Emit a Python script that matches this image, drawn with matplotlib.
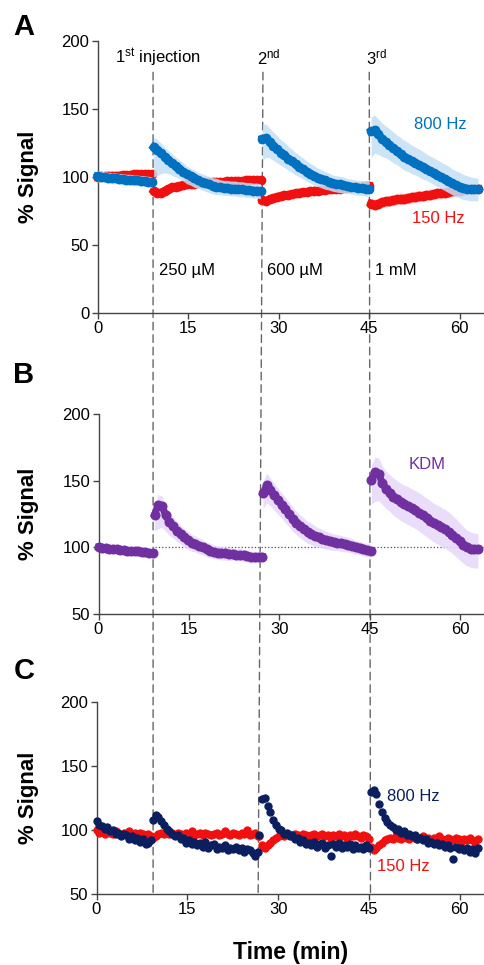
import numpy as np
import matplotlib
matplotlib.use("Agg")
import matplotlib.pyplot as plt
from matplotlib.patches import ConnectionPatch

plt.rcParams['font.family'] = ['Liberation Sans', 'DejaVu Sans']
plt.rcParams['mathtext.fontset'] = 'custom'
plt.rcParams['mathtext.rm'] = 'Liberation Sans'
plt.rcParams['mathtext.it'] = 'Liberation Sans:italic'
plt.rcParams['mathtext.bf'] = 'Liberation Sans:bold'

# ---- data (min, % signal) ----
# injection times (dashed lines, top / bottom end)
inj_top = [9.2, 27.4, 45.0]
inj_bottom = [9.35, 26.7, 45.25]

# panel A : segment bounds
a_start = [0, 9.3, 27.3, 45.3]
a_end = [9.0, 27.0, 45.0, 63.0]

a_800 = [
    [100.5, 100, 100, 99.5, 99, 99, 98.5, 98.5, 98, 98, 97.5, 97.5, 97, 97, 96.5, 96],
    [122, 120, 117.5, 115, 112.5, 110, 108, 106, 104, 102, 100.5, 99, 97.5, 96.5, 95.5,
     94.5, 93.5, 93, 92.5, 92, 92, 91.5, 91.5, 91, 91, 90.5, 90.5, 90, 90, 89.5],
    [128, 128.5, 126, 123, 120.5, 118, 116, 113.5, 111.5, 109.5, 107.5, 106, 104, 102.5, 101,
     99.5, 98.5, 97.5, 96.5, 95.5, 95, 94.5, 94, 93.5, 93, 92.5, 92, 92, 91.5, 91],
    [133.5, 134.5, 131.5, 128, 126, 123.5, 121, 119, 117, 115, 113.5, 112, 110.5, 109, 107.5,
     106, 104.5, 103, 101.5, 100, 98.5, 97, 95.5, 94, 93, 92, 91.5, 91, 91, 91],
]
a_800_hi = [
    [4, 4, 4, 4, 4, 4, 4, 4, 4, 4, 4, 4, 4, 4, 4, 4],
    [7.5, 7.5, 7.5, 7, 7, 7, 6.5, 6.5, 6.5, 6, 6, 6, 6, 6, 6,
     6, 6, 6, 5.5, 5.5, 5.5, 5.5, 5.5, 5.5, 5.5, 5.5, 5.5, 5.5, 5.5, 5.5],
    [10.5, 10.5, 10, 10, 10, 9.5, 9.5, 9, 9, 8.5, 8.5, 8, 8, 7.5, 7.5,
     7, 7, 6.5, 6.5, 6, 6, 6, 6, 5.5, 5.5, 5.5, 5.5, 5.5, 5.5, 5.5],
    [11, 11, 11, 11.5, 11.5, 12, 12, 12, 12, 12, 12, 11.5, 11.5, 11.5, 11.5,
     11, 11, 11, 11, 11, 11, 11, 10.5, 10.5, 10.5, 10, 9.5, 9, 8.5, 8],
]
a_800_lo = [
    [4, 4, 4, 4, 4, 4, 4, 4, 4, 4, 4, 4, 4, 4, 4, 4],
    [22, 19, 15, 12, 10, 9, 8, 7.5, 7, 7, 6.5, 6.5, 6, 6, 6,
     6, 6, 6, 5.5, 5.5, 5.5, 5.5, 5.5, 5.5, 5.5, 5.5, 5.5, 5.5, 5.5, 5.5],
    [16, 14, 12, 11, 10, 9.5, 9, 8.5, 8, 8, 7.5, 7.5, 7, 7, 7,
     6.5, 6.5, 6.5, 6, 6, 6, 6, 6, 5.5, 5.5, 5.5, 5.5, 5.5, 5.5, 5.5],
    [19, 17, 15, 13, 12, 11, 10.5, 10, 10, 10, 9.5, 9.5, 9, 9, 9,
     8.5, 8.5, 8.5, 8.5, 8.5, 8.5, 8.5, 8.5, 8.5, 8.5, 8.5, 8.5, 8.5, 8.5, 8.5],
]
a_150 = [
    [100, 100.5, 100.5, 101, 101, 101, 101, 101.5, 101.5, 101.5, 102, 102, 102, 102, 102, 102],
    [90, 88.5, 88.5, 90, 91.5, 92.5, 93, 93.5, 94, 94.5, 95, 95, 95.5, 95.5, 96,
     96, 96, 96.5, 96.5, 96.5, 97, 97, 97, 97, 97, 97.5, 97.5, 97.5, 97.5, 97.5],
    [83, 82.5, 83.5, 84.5, 85.5, 86, 86.5, 87, 87.5, 88, 88.5, 89, 89, 89.5, 90,
     90, 90.5, 90.5, 91, 91, 91.5, 91.5, 92, 92, 92.5, 92.5, 93, 93, 93.5, 93.5],
    [80.5, 79.5, 80.5, 81.5, 82, 82.5, 83, 83.5, 84, 84, 84.5, 85, 85.5, 86, 86,
     86.5, 87, 87.5, 88, 88, 88.5, 89, 89.5, 90, 90, 90.5, 91, 91, 91.5, 91.5],
]
a_150_err = [3, 2.5, 2.5, 4]

# panel B : KDM
b_start = [0, 9.3, 27.3, 45.3]
b_end = [9.0, 27.2, 45.2, 63.0]
b_kdm = [
    [100, 99.5, 99.5, 99, 98.5, 98.5, 98, 98, 97.5, 97.5, 97, 97, 96.5, 96.5, 96, 96],
    [124.5, 132, 131, 124, 119, 116, 112.5, 110, 107.5, 105.5, 103.5, 102.5, 101, 100, 98.5,
     97.5, 96.5, 96, 95.5, 95.5, 95, 95, 94.5, 94.5, 94, 93.5, 92.5, 92.5, 93, 93],
    [140.5, 146.5, 143, 139, 135.5, 132, 128.5, 125, 121.5, 118.5, 116, 113.5, 111.5, 110, 108.5,
     107.5, 106.5, 105.5, 104.5, 104, 103.5, 103, 102.5, 102, 101, 100, 99.5, 98.5, 98, 97.5],
    [150.5, 156.5, 155, 148, 144, 141, 138, 136, 134, 132.5, 131, 129.5, 128, 126, 124,
     122, 120, 118, 116.5, 115, 113.5, 111.5, 109.5, 107, 104.5, 102, 100, 99, 98.5, 98.5],
]
b_kdm_hi = [
    [3, 3, 3, 3, 3, 3, 3, 3, 3, 3, 3, 3, 3, 3, 3, 3],
    [7.5, 7.5, 7.5, 7.5, 7, 7, 7, 6.5, 6.5, 6.5, 6, 6, 6, 5.5, 5.5,
     5.5, 5, 5, 5, 5, 5, 4.5, 4.5, 4.5, 4.5, 4.5, 4, 4, 4, 4],
    [9, 9, 9, 9, 9, 9, 9, 9, 8.5, 8.5, 8.5, 8.5, 8, 8, 7.5,
     7, 7, 6.5, 6.5, 6, 6, 6, 5.5, 5.5, 5.5, 5, 5, 5, 5, 5],
    [11, 11, 12, 13, 13, 13.5, 14, 14, 14, 14, 14.5, 14.5, 14.5, 15, 15,
     15, 15, 15, 15, 15, 15, 15, 14.5, 14.5, 14, 13.5, 13, 12.5, 12, 12],
]
b_kdm_lo = [
    [3, 3, 3, 3, 3, 3, 3, 3, 3, 3, 3, 3, 3, 3, 3, 3],
    [12, 18, 16, 12, 10, 9, 8, 7.5, 7, 7, 6.5, 6, 6, 5.5, 5.5,
     5.5, 5, 5, 5, 5, 5, 4.5, 4.5, 4.5, 4.5, 4.5, 4, 4, 4, 4],
    [12, 13, 12, 11, 10.5, 10, 10, 9.5, 9.5, 9, 9, 8.5, 8.5, 8, 8,
     7.5, 7, 7, 6.5, 6.5, 6, 6, 6, 5.5, 5.5, 5.5, 5, 5, 5, 5],
    [18, 22, 20, 16, 15, 14, 14, 14, 14, 14, 14, 14, 14, 14, 14,
     14, 14, 14, 14, 14, 14, 14, 14, 14, 14, 14, 14, 14, 14, 14],
]

# panel C : single recording
c_start = [0, 9.3, 26.9, 45.3]
c_end = [9.0, 26.7, 45.0, 63.0]
c_800 = [
    [107, 104, 103, 101, 102, 99, 100, 97, 98, 95, 97, 96, 93, 95, 92, 94, 91, 93, 89, 90, 92],
    [108, 112, 110, 107, 104, 101, 99, 97, 95, 96, 93, 94, 90, 92, 89, 91, 88, 90, 87, 91,
     86, 88, 89, 85, 87, 86, 88, 84, 86, 85, 87, 84, 86, 83, 85, 84, 82, 80, 83],
    [96, 124, 125, 119, 114, 108, 104, 101, 100, 97, 98, 95, 96, 93, 94, 91, 92, 89, 90, 88,
     91, 87, 89, 90, 86, 88, 80, 89, 87, 90, 86, 88, 87, 89, 85, 88, 86, 87, 85, 88, 86],
    [130, 131, 128, 120, 114, 109, 106, 104, 102, 100, 101, 98, 99, 96, 97, 95, 96, 93, 94, 92,
     93, 90, 91, 89, 90, 88, 89, 87, 88, 86, 77, 87, 85, 86, 84, 86, 83, 85, 82, 86],
]
c_150 = [
    [100, 98, 99, 97, 99, 98, 97, 99, 98, 96, 98, 97, 99, 97, 98, 96, 98, 97, 96, 97, 95],
    [94, 95, 97, 98, 97, 99, 97, 98, 96, 98, 97, 96, 98, 97, 99, 96, 97, 98, 96, 98,
     97, 96, 97, 98, 96, 97, 99, 97, 96, 98, 97, 96, 98, 97, 100, 96, 97, 98, 95],
    [95, 88, 86, 88, 90, 92, 94, 95, 96, 95, 97, 96, 95, 97, 96, 95, 97, 96, 95, 96,
     97, 95, 96, 97, 95, 96, 94, 96, 95, 97, 95, 96, 94, 96, 95, 97, 95, 94, 96, 95, 93],
    [87, 84, 86, 88, 90, 92, 93, 94, 93, 95, 94, 93, 95, 94, 93, 95, 94, 93, 94, 95,
     93, 94, 92, 94, 93, 95, 93, 92, 94, 93, 92, 94, 93, 91, 93, 92, 94, 92, 91, 93],
]

BLUE = '#0070C0'
BLUE_BAND = '#C5E0F5'
RED = '#F01010'
RED_BAND = '#F9BDBD'
PURPLE = '#7030A0'
PURPLE_BAND = '#E6D8FA'
NAVY = '#0B1F5E'
AXC = '#444444'

W, H = 484, 965
fig = plt.figure(figsize=(W / 100, H / 100), dpi=100)


def box(left, top, right, bottom):
    return [left / W, 1 - bottom / H, (right - left) / W, (bottom - top) / H]


axA = fig.add_axes(box(97.5, 41, 484, 313))
axB = fig.add_axes(box(98.5, 414, 484, 614))
axC = fig.add_axes(box(96.5, 702, 484, 894))


def style(ax, ylim, yticks):
    ax.set_facecolor('none')
    ax.set_xlim(0, 64)
    ax.set_ylim(*ylim)
    ax.set_xticks([0, 15, 30, 45, 60])
    ax.set_yticks(yticks)
    ax.spines['top'].set_visible(False)
    ax.spines['right'].set_visible(False)
    for s in ['left', 'bottom']:
        ax.spines[s].set_color(AXC)
        ax.spines[s].set_linewidth(1.0)
    ax.tick_params(direction='out', length=4, width=1, color=AXC,
                   labelsize=12, pad=2, labelcolor='black')


def trace(ax, starts, ends, vals, color, band=None, lo=None, hi=None,
          ms=6.0, lw=5.5, z=3):
    for i, v in enumerate(vals):
        v = np.array(v, dtype=float)
        t = np.linspace(starts[i], ends[i], len(v))
        if band is not None:
            ax.fill_between(t, v - np.array(lo[i]), v + np.array(hi[i]),
                            color=band, lw=0, zorder=z - 1, alpha=0.85)
        ax.plot(t, v, 'o-', color=color, ms=ms, lw=lw, mec=color,
                zorder=z, clip_on=False)


# ---- panel A ----
style(axA, (0, 200), [0, 50, 100, 150, 200])
trace(axA, a_start, a_end, a_150, RED, RED_BAND,
      [[e] * len(v) for e, v in zip(a_150_err, a_150)],
      [[e] * len(v) for e, v in zip(a_150_err, a_150)], z=3)
trace(axA, a_start, a_end, a_800, BLUE, BLUE_BAND, a_800_lo, a_800_hi, z=5)

axA.text(2.9, 188, r'1$^{\mathrm{st}}$ injection', fontsize=12, va='center')
axA.text(26.4, 188, r'2$^{\mathrm{nd}}$', fontsize=12, va='center')
axA.text(44.4, 188, r'3$^{\mathrm{rd}}$', fontsize=12, va='center')
axA.text(10.2, 31.6, '250 µM', fontsize=12, va='center')
axA.text(28.0, 31.6, '600 µM', fontsize=12, va='center')
axA.text(45.9, 31.6, '1 mM', fontsize=12, va='center')
axA.text(52.4, 138.7, '800 Hz', fontsize=12, va='center', color=BLUE)
axA.text(52.1, 69.6, '150 Hz', fontsize=12, va='center', color=RED)

# ---- panel B ----
style(axB, (50, 200), [50, 100, 150, 200])
axB.plot([9.3, 64], [100, 100], ls=':', lw=0.9, color=PURPLE, zorder=1)
trace(axB, b_start, b_end, b_kdm, PURPLE, PURPLE_BAND, b_kdm_lo, b_kdm_hi,
      ms=6.2, lw=5.0)
axB.text(51.5, 162, 'KDM', fontsize=12, va='center', color=PURPLE)

# ---- panel C ----
style(axC, (50, 200), [50, 100, 150, 200])
for vals, col in [(c_150, RED), (c_800, NAVY)]:
    for i, v in enumerate(vals):
        t = np.linspace(c_start[i], c_end[i], len(v))
        axC.plot(t, v, 'o', color=col, ms=5.0, zorder=3, clip_on=False)
axC.text(47.9, 126, '800 Hz', fontsize=12, va='center', color=NAVY)
axC.text(46.4, 71.6, '150 Hz', fontsize=12, va='center', color=RED)

# injection lines running through all panels
for tt, tb in zip(inj_top, inj_bottom):
    cp = ConnectionPatch(xyA=(tt, 177), coordsA=axA.transData,
                         xyB=(tb, 50), coordsB=axC.transData,
                         color='#666666', lw=1.0, linestyle=(0, (5.5, 3.5)),
                         zorder=-1)
    fig.add_artist(cp)

# labels
for ax in (axA, axB, axC):
    pos = ax.get_position()
    fig.text(0.058, pos.y0 + pos.height / 2, '% Signal', rotation=90,
             fontsize=16, fontweight='bold', ha='center', va='center')
fig.text(24 / W, 1 - 27 / H, 'A', fontsize=21, fontweight='bold', ha='center', va='center')
fig.text(24 / W, 1 - 375 / H, 'B', fontsize=21, fontweight='bold', ha='center', va='center')
fig.text(24 / W, 1 - 671 / H, 'C', fontsize=21, fontweight='bold', ha='center', va='center')
fig.text(291 / W, 1 - 953 / H, 'Time (min)', fontsize=16.5, fontweight='bold',
         ha='center', va='center')

fig.savefig('out.png', dpi=100)
